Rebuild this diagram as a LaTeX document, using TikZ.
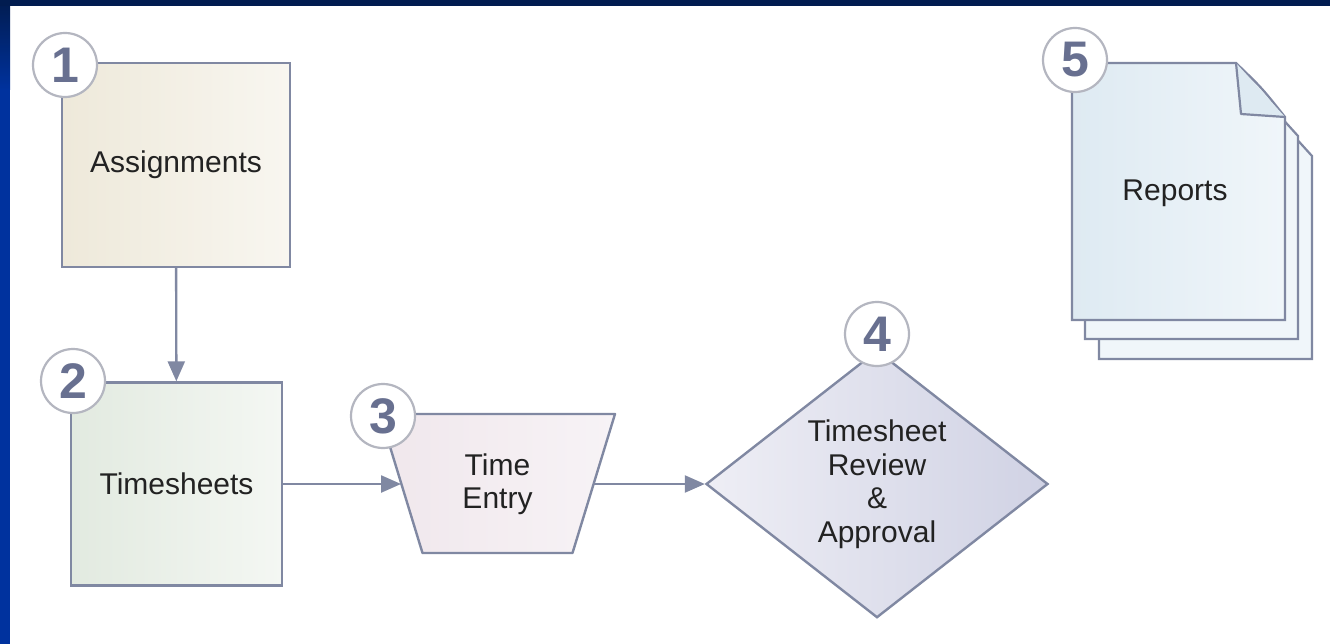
\documentclass[tikz,border=0pt]{standalone}
\usepackage{fontspec}
\setmainfont{Liberation Sans}
\usetikzlibrary{shapes.geometric,arrows.meta}
\definecolor{navy}{RGB}{1,28,80}
\definecolor{barblue}{RGB}{0,50,158}
\definecolor{edgecol}{RGB}{128,136,162}
\definecolor{circcol}{RGB}{180,182,192}
\definecolor{numcol}{RGB}{104,112,144}
\definecolor{txtcol}{RGB}{34,34,34}
\definecolor{beigeA}{RGB}{238,233,218}
\definecolor{beigeB}{RGB}{248,246,240}
\definecolor{greenA}{RGB}{226,234,224}
\definecolor{greenB}{RGB}{244,247,243}
\definecolor{pinkA}{RGB}{240,231,236}
\definecolor{pinkB}{RGB}{247,243,246}
\definecolor{lavA}{RGB}{238,238,245}
\definecolor{lavB}{RGB}{208,210,228}
\definecolor{blueA}{RGB}{222,234,242}
\definecolor{blueB}{RGB}{240,246,250}
\tikzset{
  shapeline/.style={draw=edgecol, line width=2.4pt},
  lbl/.style={text=txtcol, font=\fontsize{30}{33.5}\selectfont, align=center},
  boxnode/.style={shapeline, lbl, rectangle, inner sep=0pt},
  numcirc/.style={circle, draw=circcol, line width=2.2pt, fill=white, minimum size=64pt, inner sep=0pt,
     text=numcol, font=\bfseries\fontsize{50}{50}\selectfont},
  arr/.style={draw=edgecol, line width=2.4pt, -{Triangle[length=20pt,width=17pt]}},
  pagebody/.style={shapeline, line width=2.2pt}
}
\begin{document}
\begin{tikzpicture}[x=1pt,y=-1pt]
\useasboundingbox (0,0) rectangle (1330,644);
% background
\fill[white] (0,0) rectangle (1330,644);
\shade[top color=navy, bottom color=barblue] (0,0) rectangle (10,90);
\fill[barblue] (0,89.5) rectangle (10,644);
\fill[navy] (0,0) rectangle (1330,6);

% 1 Assignments
\node[boxnode, minimum width=228pt, minimum height=204pt, left color=beigeA, right color=beigeB] (b1) at (176,165) {Assignments};
% 2 Timesheets
\node[boxnode, minimum width=211pt, minimum height=203pt, left color=greenA, right color=greenB] (b2) at (176.5,484) {Timesheets};
% 3 Time Entry (trapezoid)
\path[shapeline, left color=pinkA, right color=pinkB, line join=round]
  (380,414) -- (615,414) -- (572.5,553) -- (422.5,553) -- cycle;
\node[lbl] (te) at (497.5,484) {Time\\Entry};
\coordinate (teL) at (401,484);
\coordinate (teR) at (594,484);
% 4 Review
\node[shapeline, lbl, diamond, minimum width=342pt, minimum height=246pt, inner sep=0pt,
      left color=lavA, right color=lavB] (rv) at (877,484) {Timesheet\\Review\\\&\\Approval};

% 5 Reports pages
\begin{scope}[shift={(27,39)}]
\path[pagebody, fill=blueB] (1072,63) -- (1236,63) -- (1285,117) -- (1285,320) -- (1072,320) -- cycle;
\end{scope}
\begin{scope}[shift={(13,19)}]
\path[pagebody, fill=blueB] (1072,63) -- (1236,63) -- (1285,117) -- (1285,320) -- (1072,320) -- cycle;
\end{scope}
\path[pagebody, left color=blueA, right color=blueB] (1072,63) -- (1236,63) .. controls (1262,88) .. (1285,117) -- (1285,320) -- (1072,320) -- cycle;
\path[pagebody, fill=blueA, line join=round] (1236,63) -- (1241,114) -- (1285,117);
\node[lbl] (rp) at (1175,193) {Reports};

% connectors
\draw[arr] (b1) -- (b2);
\draw[arr] (b2) -- (teL);
\draw[arr] (teR) -- (rv);

% number circles
\node[numcirc] (c1) at (65,65) {1};
\node[numcirc] (c2) at (73,381) {2};
\node[numcirc] (c3) at (383,416) {3};
\node[numcirc] (c4) at (877,334) {4};
\node[numcirc] (c5) at (1075,60) {5};
\end{tikzpicture}
\end{document}
